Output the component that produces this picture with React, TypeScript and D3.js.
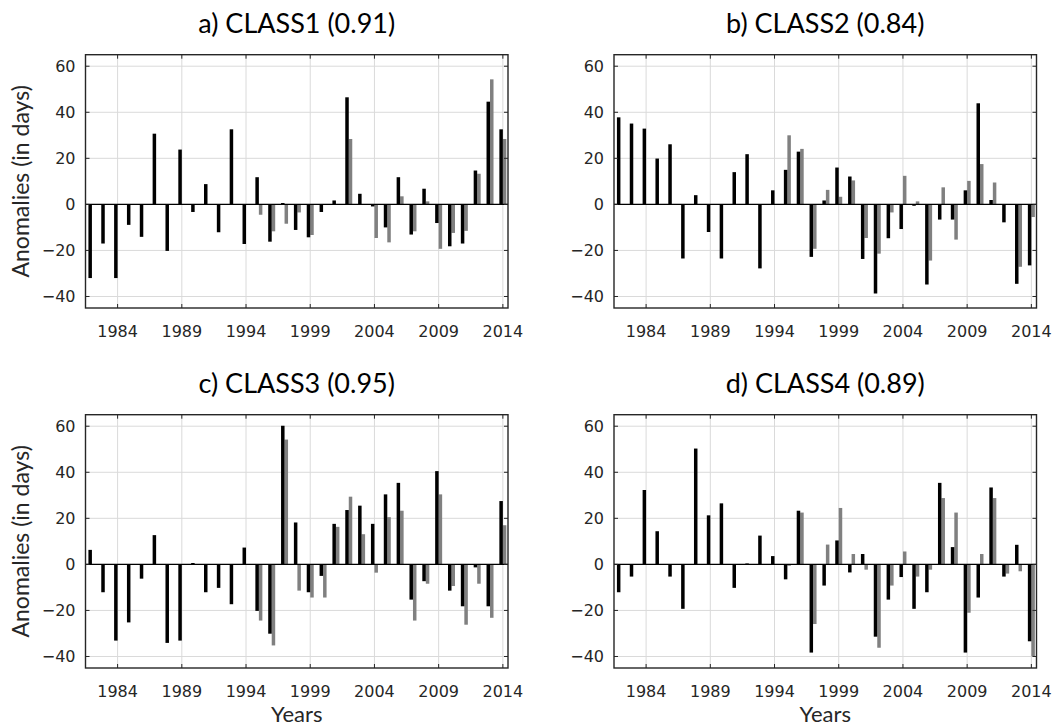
import React from "react";
import * as d3 from "d3";

const years = [1982, 1983, 1984, 1985, 1986, 1987, 1988, 1989, 1990, 1991, 1992, 1993, 1994, 1995, 1996, 1997, 1998, 1999, 2000, 2001, 2002, 2003, 2004, 2005, 2006, 2007, 2008, 2009, 2010, 2011, 2012, 2013, 2014];
const xTicks = [1984, 1989, 1994, 1999, 2004, 2009, 2014];
const yTicks = [-40, -20, 0, 20, 40, 60];
const N = null;

const class1Black = [-32, -17, -32, -8.9, -14.1, 30.7, -20.2, 23.8, -3.3, 8.8, -12.1, 32.6, -17.2, 11.8, -16.2, 0.6, -11.1, -14.3, -3.3, 1.7, 46.5, 4.6, -0.9, -10, 11.8, -13.1, 6.8, -8.1, -18.2, -17, 14.7, 44.6, 32.6];
const class1Gray = [N, N, N, N, N, N, N, N, N, N, N, N, N, -4.5, -11.7, -8.4, -3.5, -13.3, 0, 0, 28.4, 0, -14.6, -16.5, 3.5, -11.7, 1.3, -19.3, -12.4, -11.5, 13.3, 54.3, 28.4];

const class2Black = [37.8, 35.1, 32.9, 19.9, 26.1, -23.5, 4.0, -12.0, -23.5, 14.0, 21.8, -27.8, 6.1, 15.0, 22.9, -22.8, 1.7, 16.0, 12.1, -23.7, -38.7, -14.7, -10.7, -0.6, -34.8, -6.6, -6.6, 6.1, 43.9, 1.9, -7.8, -34.5, -26.5];
const class2Gray = [N, N, N, N, N, N, N, N, N, N, N, N, N, 30.0, 24.1, -19.3, 6.3, 3.3, 10.4, -14.6, -21.4, -3.5, 12.4, 1.3, -24.4, 7.4, -15.3, 10.2, 17.5, 9.5, 0, -27.1, -5.5];

const class3Black = [6.3, -12.1, -33.1, -25.2, -6.2, 12.7, -34.1, -33.1, 0.6, -12.1, -10.2, -17.3, 7.3, -20.2, -30.1, 60.2, 18.2, -12.1, -5.0, 17.6, 23.6, 25.5, 17.6, 30.4, 35.4, -15.3, -7.3, 40.5, -11.4, -18.2, -1.3, -18.2, 27.5];
const class3Gray = [N, N, N, N, N, N, N, N, N, N, N, N, N, -24.4, -35.2, 54.2, -11.4, -14.4, -14.4, 16.3, 29.4, 13.1, -3.6, 20.5, 23.3, -24.4, -8.4, 30.4, -9.4, -26.2, -8.4, -23.2, 17];

const class4Black = [-12.1, -5.3, 32.3, 14.4, -5.3, -19.3, 50.3, 21.3, 26.5, -10.2, 0.4, 12.5, 3.6, -6.5, 23.3, -38.3, -9.2, 10.4, -3.5, 4.5, -31.4, -15.3, -5.5, -19.3, -12.1, 35.4, 7.5, -38.3, -14.4, 33.4, -5.3, 8.5, -33.4];
const class4Gray = [N, N, N, N, N, N, N, N, N, N, N, N, N, -0.6, 22.5, -25.9, 8.6, 24.5, 4.5, -2.3, -36.2, -9.2, 5.6, -5.3, -2.3, 28.8, 22.5, -21.0, 4.5, 28.8, -4.0, -3.0, -39.9];

const titles = ["a) CLASS1 (0.91)", "b) CLASS2 (0.84)", "c) CLASS3 (0.95)", "d) CLASS4 (0.89)"];
const blackSeries = [class1Black, class2Black, class3Black, class4Black];
const graySeries = [class1Gray, class2Gray, class3Gray, class4Gray];

const W = 1059, H = 728;
const PW = 422.5, PH = 253.3;
const origins = [
  { left: 85.5, top: 54.7 },
  { left: 614, top: 54.7 },
  { left: 85.5, top: 414.7 },
  { left: 614, top: 414.7 },
];
const AXIS = "#262626";
const GRID = "#dadada";
const BW = 3.5;
const TITLE_FONT = "Lato, 'Open Sans', sans-serif";
const TICK_FONT = "'DejaVu Sans', sans-serif";

function Panel({ idx }: { idx: number }) {
  const { left, top } = origins[idx];
  const x = d3.scaleLinear().domain([1981.5, 2014.4]).range([left, left + PW]);
  const y = d3.scaleLinear().domain([-45, 65]).range([top + PH, top]);
  const blk = blackSeries[idx];
  const gry = graySeries[idx];
  const right = left + PW, bottom = top + PH;
  return (
    <g>
      {yTicks.map((t) => (
        <line key={"gy" + t} x1={left} x2={right} y1={y(t)} y2={y(t)} stroke={GRID} strokeWidth={1} />
      ))}
      {xTicks.map((t) => (
        <line key={"gx" + t} x1={x(t)} x2={x(t)} y1={top} y2={bottom} stroke={GRID} strokeWidth={1} />
      ))}
      {years.map((yr, i) => {
        const v = gry[i];
        if (v === null || v === undefined) return null;
        return (
          <rect key={"g" + yr} x={x(yr)} width={BW} y={Math.min(y(0), y(v))} height={Math.abs(y(v) - y(0))} fill="#808080" />
        );
      })}
      {years.map((yr, i) => {
        const v = blk[i];
        return (
          <rect key={"b" + yr} x={x(yr) - BW} width={BW} y={Math.min(y(0), y(v))} height={Math.abs(y(v) - y(0))} fill="#000" />
        );
      })}
      <line x1={left} x2={right} y1={y(0)} y2={y(0)} stroke="#000" strokeWidth={1.2} />
      {xTicks.map((t) => (
        <g key={"tx" + t}>
          <line x1={x(t)} x2={x(t)} y1={bottom} y2={bottom - 4} stroke={AXIS} strokeWidth={1} />
          <line x1={x(t)} x2={x(t)} y1={top} y2={top + 4} stroke={AXIS} strokeWidth={1} />
          <text x={x(t)} y={bottom + 29} textAnchor="middle" fontFamily={TICK_FONT} fontSize={16} fill="#262626">{t}</text>
        </g>
      ))}
      {yTicks.map((t) => (
        <g key={"ty" + t}>
          <line x1={left} x2={left + 4} y1={y(t)} y2={y(t)} stroke={AXIS} strokeWidth={1} />
          <line x1={right} x2={right - 4} y1={y(t)} y2={y(t)} stroke={AXIS} strokeWidth={1} />
          <text x={left - 10} y={y(t)} dy="0.36em" textAnchor="end" fontFamily={TICK_FONT} fontSize={16} fill="#262626">
            {t < 0 ? "\u2212" + Math.abs(t) : String(t)}
          </text>
        </g>
      ))}
      <rect x={left} y={top} width={PW} height={PH} fill="none" stroke={AXIS} strokeWidth={1.4} />
      <text x={(left + right) / 2} y={top - 22} textAnchor="middle" fontFamily={TITLE_FONT} fontSize={27} fill="#000">
        {titles[idx]}
      </text>
      {idx % 2 === 0 && (
        <text transform={`translate(${left - 57},${(top + bottom) / 2}) rotate(-90)`} textAnchor="middle" fontFamily={TITLE_FONT} fontSize={23} fill="#262626">
          Anomalies (in days)
        </text>
      )}
      {idx >= 2 && (
        <text x={(left + right) / 2} y={bottom + 54} textAnchor="middle" fontFamily={TITLE_FONT} fontSize={22} fill="#262626">
          Years
        </text>
      )}
    </g>
  );
}

export default function App() {
  return (
    <svg width={W} height={H} style={{ position: "absolute", left: 0, top: 0, background: "#fff" }}>
      <rect width={W} height={H} fill="#fff" />
      {[0, 1, 2, 3].map((i) => (
        <Panel key={i} idx={i} />
      ))}
    </svg>
  );
}
